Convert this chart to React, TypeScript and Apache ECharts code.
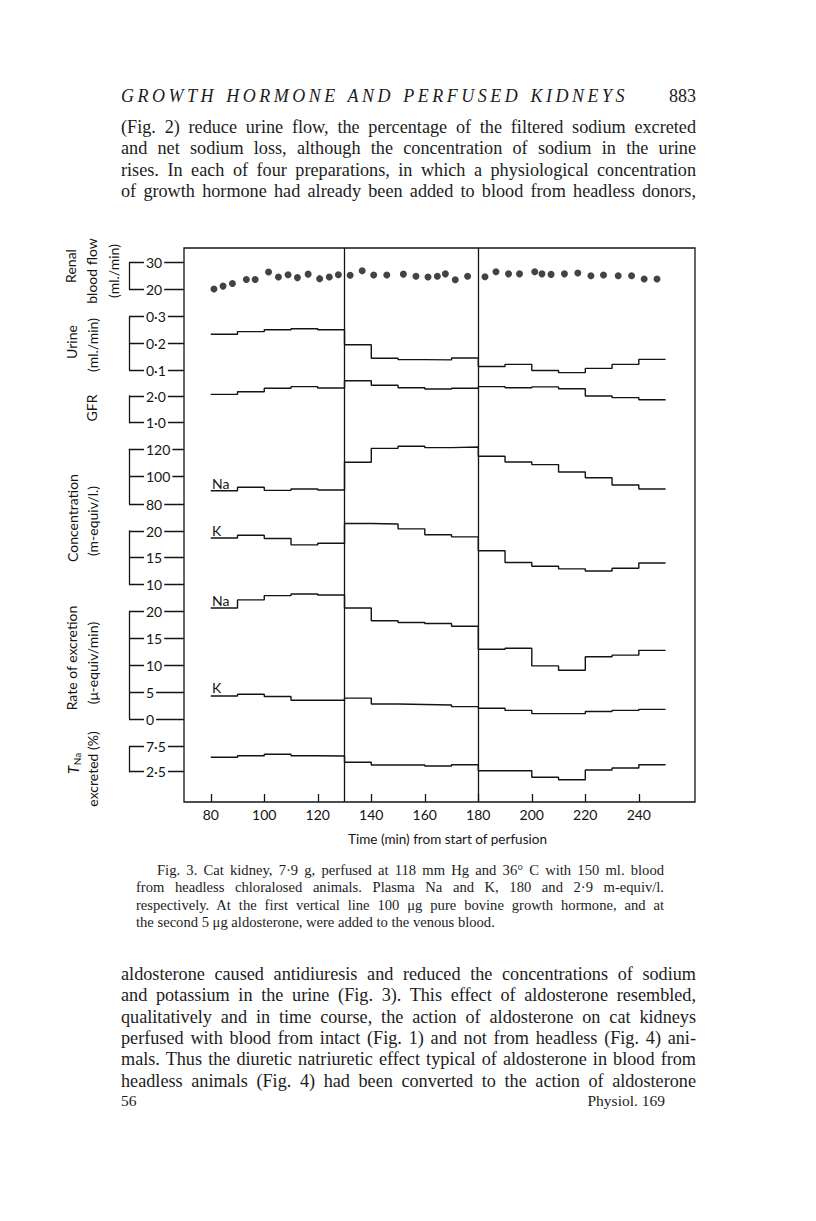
import React, { useEffect, useRef } from "react";
import * as echarts from "echarts";

// ---------- data ----------
const periodStarts = [80, 90, 100, 110, 120, 130, 140, 150, 160, 170, 180, 190, 200, 210, 220, 230, 240];
const periodEnd = 250;

const renalTimes = [81.2, 84.6, 88.1, 93.3, 96.6, 101.6, 105.3, 108.9, 112.4, 116.4, 120.7, 124.3, 127.7,
  132.1, 136.6, 140.9, 145.8, 152.0, 156.7, 161.2, 164.7, 167.7, 171.4, 176.0,
  182.5, 186.6, 191.3, 195.4, 201.1, 203.8, 207.2, 212.2, 217.2, 222.1, 226.8, 232.3, 237.3, 242.0, 246.8];
const renalFlow = [20.1, 21.2, 22.2, 23.7, 23.7, 26.5, 24.6, 25.5, 24.4, 25.7, 24.0, 24.6, 25.5,
  25.3, 27.0, 25.4, 25.4, 25.7, 24.9, 24.6, 24.9, 25.8, 23.6, 24.9,
  24.7, 26.6, 25.8, 25.8, 26.6, 25.8, 25.6, 25.8, 26.1, 25.1, 25.4, 25.1, 25.1, 23.9, 23.9];

const urineFlow = [0.234, 0.244, 0.251, 0.255, 0.251, 0.195, 0.144, 0.139, 0.138, 0.145, 0.113, 0.121, 0.098, 0.09, 0.106, 0.121, 0.14];
const gfr = [2.06, 2.16, 2.29, 2.35, 2.3, 2.57, 2.4, 2.31, 2.26, 2.29, 2.35, 2.31, 2.34, 2.27, 2.0, 1.94, 1.86];
const naConc = [89.7, 92.2, 90.0, 91.0, 90.2, 110.5, 120.7, 122.2, 121.2, 121.7, 114.9, 110.7, 108.8, 103.4, 99.2, 93.9, 91.0];
const kConc = [18.7, 19.2, 18.6, 17.4, 17.7, 21.4, 21.3, 20.4, 19.3, 18.9, 16.3, 14.1, 13.4, 12.9, 12.5, 13.0, 14.0];
const naRate = [20.7, 22.2, 23.0, 23.3, 23.1, 20.7, 18.3, 18.0, 17.8, 17.3, 13.0, 13.2, 9.9, 9.1, 11.6, 11.9, 12.8];
const kRate = [4.3, 4.6, 4.2, 3.5, 3.5, 3.9, 2.8, 2.7, 2.6, 2.3, 2.0, 1.6, 1.0, 1.0, 1.4, 1.6, 1.8];
const tnaExcreted = [5.38, 5.7, 6.0, 5.7, 5.64, 4.38, 3.84, 3.84, 3.64, 3.9, 2.7, 2.7, 1.38, 0.9, 2.84, 3.24, 3.9];

const eventTimes = [130, 180];
const xTicks = [80, 100, 120, 140, 160, 180, 200, 220, 240];
const renalTicks = [20, 30];
const urineTicks = [0.1, 0.2, 0.3];
const gfrTicks = [1, 2];
const naConcTicks = [80, 100, 120];
const kConcTicks = [10, 15, 20];
const rateTicks = [0, 5, 10, 15, 20];
const tnaTicks = [2.5, 7.5];

const headerText = "GROWTH HORMONE AND PERFUSED KIDNEYS";
const pageNumber = "883";
const para1 = [
  "(Fig. 2) reduce urine flow, the percentage of the filtered sodium excreted",
  "and net sodium loss, although the concentration of sodium in the urine",
  "rises. In each of four preparations, in which a physiological concentration",
  "of growth hormone had already been added to blood from headless donors,",
];
const caption = [
  "Fig. 3.  Cat kidney, 7·9 g, perfused at 118 mm Hg and 36° C with 150 ml. blood",
  "from headless chloralosed animals.  Plasma Na and K, 180 and 2·9 m-equiv/l.",
  "respectively.  At the first vertical line 100 \u03bcg pure bovine growth hormone, and at",
  "the second 5 \u03bcg aldosterone, were added to the venous blood.",
];
const para2 = [
  "aldosterone caused antidiuresis and reduced the concentrations of sodium",
  "and potassium in the urine (Fig. 3). This effect of aldosterone resembled,",
  "qualitatively and in time course, the action of aldosterone on cat kidneys",
  "perfused with blood from intact (Fig. 1) and not from headless (Fig. 4) ani-",
  "mals. Thus the diuretic natriuretic effect typical of aldosterone in blood from",
  "headless animals (Fig. 4) had been converted to the action of aldosterone",
];
const footLeft = "56";
const footRight = "Physiol. 169";

// ---------- layout ----------
const INK = "#141414";
const SANS = "Lato, 'Noto Sans', sans-serif";
const SERIF = "'Liberation Serif', 'DejaVu Serif', serif";
const FRAME = { left: 184, right: 695, top: 248, bottom: 802 };
const X_MIN = 70;
const X_MAX = 261;

type Panel = { top: number; bottom: number; min: number; max: number; ticks: number[]; dec: number };
const panels: Panel[] = [
  { top: 262.7, bottom: 289.3, min: 20, max: 30, ticks: renalTicks, dec: 0 },
  { top: 316.7, bottom: 370, min: 0.1, max: 0.3, ticks: urineTicks, dec: 1 },
  { top: 396, bottom: 422.7, min: 1, max: 2, ticks: gfrTicks, dec: 1 },
  { top: 449.3, bottom: 504, min: 80, max: 120, ticks: naConcTicks, dec: 0 },
  { top: 531, bottom: 584.3, min: 10, max: 20, ticks: kConcTicks, dec: 0 },
  { top: 611.7, bottom: 719, min: 0, max: 20, ticks: rateTicks, dec: 0 },
  { top: 746.7, bottom: 771.7, min: 2.5, max: 7.5, ticks: tnaTicks, dec: 1 },
];

const stepData = (vals: number[]) =>
  periodStarts.map((t, i) => [t, vals[i]]).concat([[periodEnd, vals[vals.length - 1]]]);

function buildOption() {
  const grid: any[] = [
    {
      left: FRAME.left,
      top: FRAME.top,
      width: FRAME.right - FRAME.left,
      height: FRAME.bottom - FRAME.top,
      show: true,
      borderColor: INK,
      borderWidth: 1.3,
      backgroundColor: "transparent",
    },
  ];
  const xAxis: any[] = [
    {
      gridIndex: 0,
      type: "value",
      min: X_MIN,
      max: X_MAX,
      position: "bottom",
      axisLine: { show: false },
      splitLine: { show: false },
      axisTick: { show: true, inside: true, length: 8, customValues: xTicks, lineStyle: { color: INK, width: 1.3 } },
      axisLabel: { show: true, customValues: xTicks, margin: 5, color: INK, fontFamily: SANS, fontSize: 14 },
      name: "Time (min) from start of perfusion",
      nameLocation: "middle",
      nameGap: 30,
      nameTextStyle: { color: INK, fontFamily: SANS, fontSize: 13.5, padding: [0, 0, 0, 16] },
    },
  ];
  const yAxis: any[] = [{ gridIndex: 0, type: "value", min: 0, max: 1, show: false }];

  panels.forEach((p, i) => {
    grid.push({
      left: FRAME.left,
      top: p.top,
      width: FRAME.right - FRAME.left,
      height: p.bottom - p.top,
      show: false,
    });
    xAxis.push({ gridIndex: i + 1, type: "value", min: X_MIN, max: X_MAX, show: false });
    yAxis.push({
      gridIndex: i + 1,
      type: "value",
      min: p.min,
      max: p.max,
      position: "left",
      offset: 55,
      splitLine: { show: false },
      axisLine: { show: true, lineStyle: { color: INK, width: 1.3 } },
      axisTick: { show: true, inside: true, length: 55, customValues: p.ticks, lineStyle: { color: INK, width: 1.3 } },
      axisLabel: {
        show: true,
        inside: true,
        margin: 15,
        customValues: p.ticks,
        formatter: (v: number) => v.toFixed(p.dec).replace(".", "\u00b7"),
        color: INK,
        fontFamily: SANS,
        fontSize: 14,
        backgroundColor: "#ffffff",
        padding: [0, 2, 0, 2],
      },
    });
  });

  const stepSeries = (vals: number[], panelIdx: number) => ({
    type: "line",
    xAxisIndex: panelIdx,
    yAxisIndex: panelIdx,
    step: "end",
    data: stepData(vals),
    showSymbol: false,
    symbol: "none",
    clip: false,
    silent: true,
    lineStyle: { color: INK, width: 1.4 },
  });

  const series: any[] = [
    {
      type: "line",
      xAxisIndex: 0,
      yAxisIndex: 0,
      data: [],
      silent: true,
      markLine: {
        symbol: ["none", "none"],
        silent: true,
        label: { show: false },
        lineStyle: { color: INK, width: 1.3, type: "solid" },
        data: eventTimes.map((t) => ({ xAxis: t })),
      },
    },
    {
      type: "scatter",
      xAxisIndex: 1,
      yAxisIndex: 1,
      data: renalTimes.map((t, i) => [t, renalFlow[i]]),
      symbol: "circle",
      symbolSize: 7,
      clip: false,
      silent: true,
      itemStyle: { color: INK },
    },
    stepSeries(urineFlow, 2),
    stepSeries(gfr, 3),
    stepSeries(naConc, 4),
    stepSeries(kConc, 5),
    stepSeries(naRate, 6),
    stepSeries(kRate, 6),
    stepSeries(tnaExcreted, 7),
  ];

  const vText = (text: string, x: number, y: number) => ({
    type: "text",
    x,
    y,
    rotation: Math.PI / 2,
    silent: true,
    style: { text, fill: INK, font: `14px ${SANS}`, align: "center", verticalAlign: "middle" },
  });
  const hText = (text: string, x: number, y: number) => ({
    type: "text",
    x,
    y,
    silent: true,
    style: { text, fill: INK, font: `14px ${SANS}`, align: "left", verticalAlign: "middle" },
  });

  const graphic: any[] = [
    vText("Renal", 70, 266),
    vText("blood flow", 91, 271),
    vText("(ml./min)", 113, 271),
    vText("Urine", 71, 342),
    vText("(ml./min)", 92, 345),
    vText("GFR", 91, 408),
    vText("Concentration", 72, 518),
    vText("(m-equiv/l.)", 92.5, 521),
    vText("Rate of excretion", 71, 658),
    vText("(\u03bc-equiv/min)", 92, 663),
    {
      type: "group",
      x: 73,
      y: 765,
      rotation: Math.PI / 2,
      silent: true,
      children: [
        { type: "text", x: -5, y: 0, style: { text: "T", fill: INK, font: `italic 15px ${SANS}`, align: "center", verticalAlign: "middle" } },
        { type: "text", x: 6, y: 4, style: { text: "Na", fill: INK, font: `10px ${SANS}`, align: "center", verticalAlign: "middle" } },
      ],
    },
    vText("excreted (%)", 92, 769),
    hText("Na", 212, 483),
    hText("K", 212, 530),
    hText("Na", 212, 600),
    hText("K", 212, 687),
  ];

  return {
    animation: false,
    backgroundColor: "#ffffff",
    grid,
    xAxis,
    yAxis,
    series,
    graphic,
  };
}

type LineProps = { text: string; left: number; top: number; width: number; size: number; align?: "justify" | "left" | "right"; style?: React.CSSProperties };
function Line({ text, left, top, width, size, align = "justify", style }: LineProps) {
  return (
    <div
      style={{
        position: "absolute",
        left,
        top,
        width,
        fontFamily: SERIF,
        fontSize: size,
        lineHeight: "20px",
        color: "#1c1c1c",
        textAlign: align,
        textAlignLast: align,
        ...style,
      }}
    >
      {text}
    </div>
  );
}

export default function App() {
  const ref = useRef<HTMLDivElement | null>(null);
  useEffect(() => {
    if (!ref.current) return;
    const chart = echarts.init(ref.current, undefined, { renderer: "svg" });
    chart.setOption(buildOption() as any);
    return () => chart.dispose();
  }, []);

  return (
    <div style={{ position: "absolute", left: 0, top: 0, width: 816, height: 1221, background: "#fff", overflow: "hidden" }}>
      <div ref={ref} style={{ position: "absolute", left: 0, top: 0, width: 816, height: 1221 }} />
      <Line text={headerText} left={121} top={86} width={507} size={18} style={{ fontStyle: "italic", letterSpacing: "3.5px" }} />
      <Line text={pageNumber} left={660} top={86} width={36} size={18} align="right" />
      {para1.map((t, i) => (
        <Line key={"p1" + i} text={t} left={121} top={117 + i * 21.3} width={575} size={18.2} />
      ))}
      {caption.map((t, i) => (
        <Line
          key={"c" + i}
          text={t}
          left={i === 0 ? 157 : 136}
          top={860 + i * 17.4}
          width={i === 0 ? 507 : 528}
          size={14.6}
          align={i < 3 ? "justify" : "left"}
        />
      ))}
      {para2.map((t, i) => (
        <Line
          key={"p2" + i}
          text={t}
          left={121}
          top={964 + i * 21.3}
          width={575}
          size={18.2}
          style={i === 4 ? { wordSpacing: "-4px" } : undefined}
        />
      ))}
      <Line text={footLeft} left={121} top={1091} width={30} size={15.5} align="left" />
      <Line text={footRight} left={545} top={1091} width={120} size={15.5} align="right" />
    </div>
  );
}
